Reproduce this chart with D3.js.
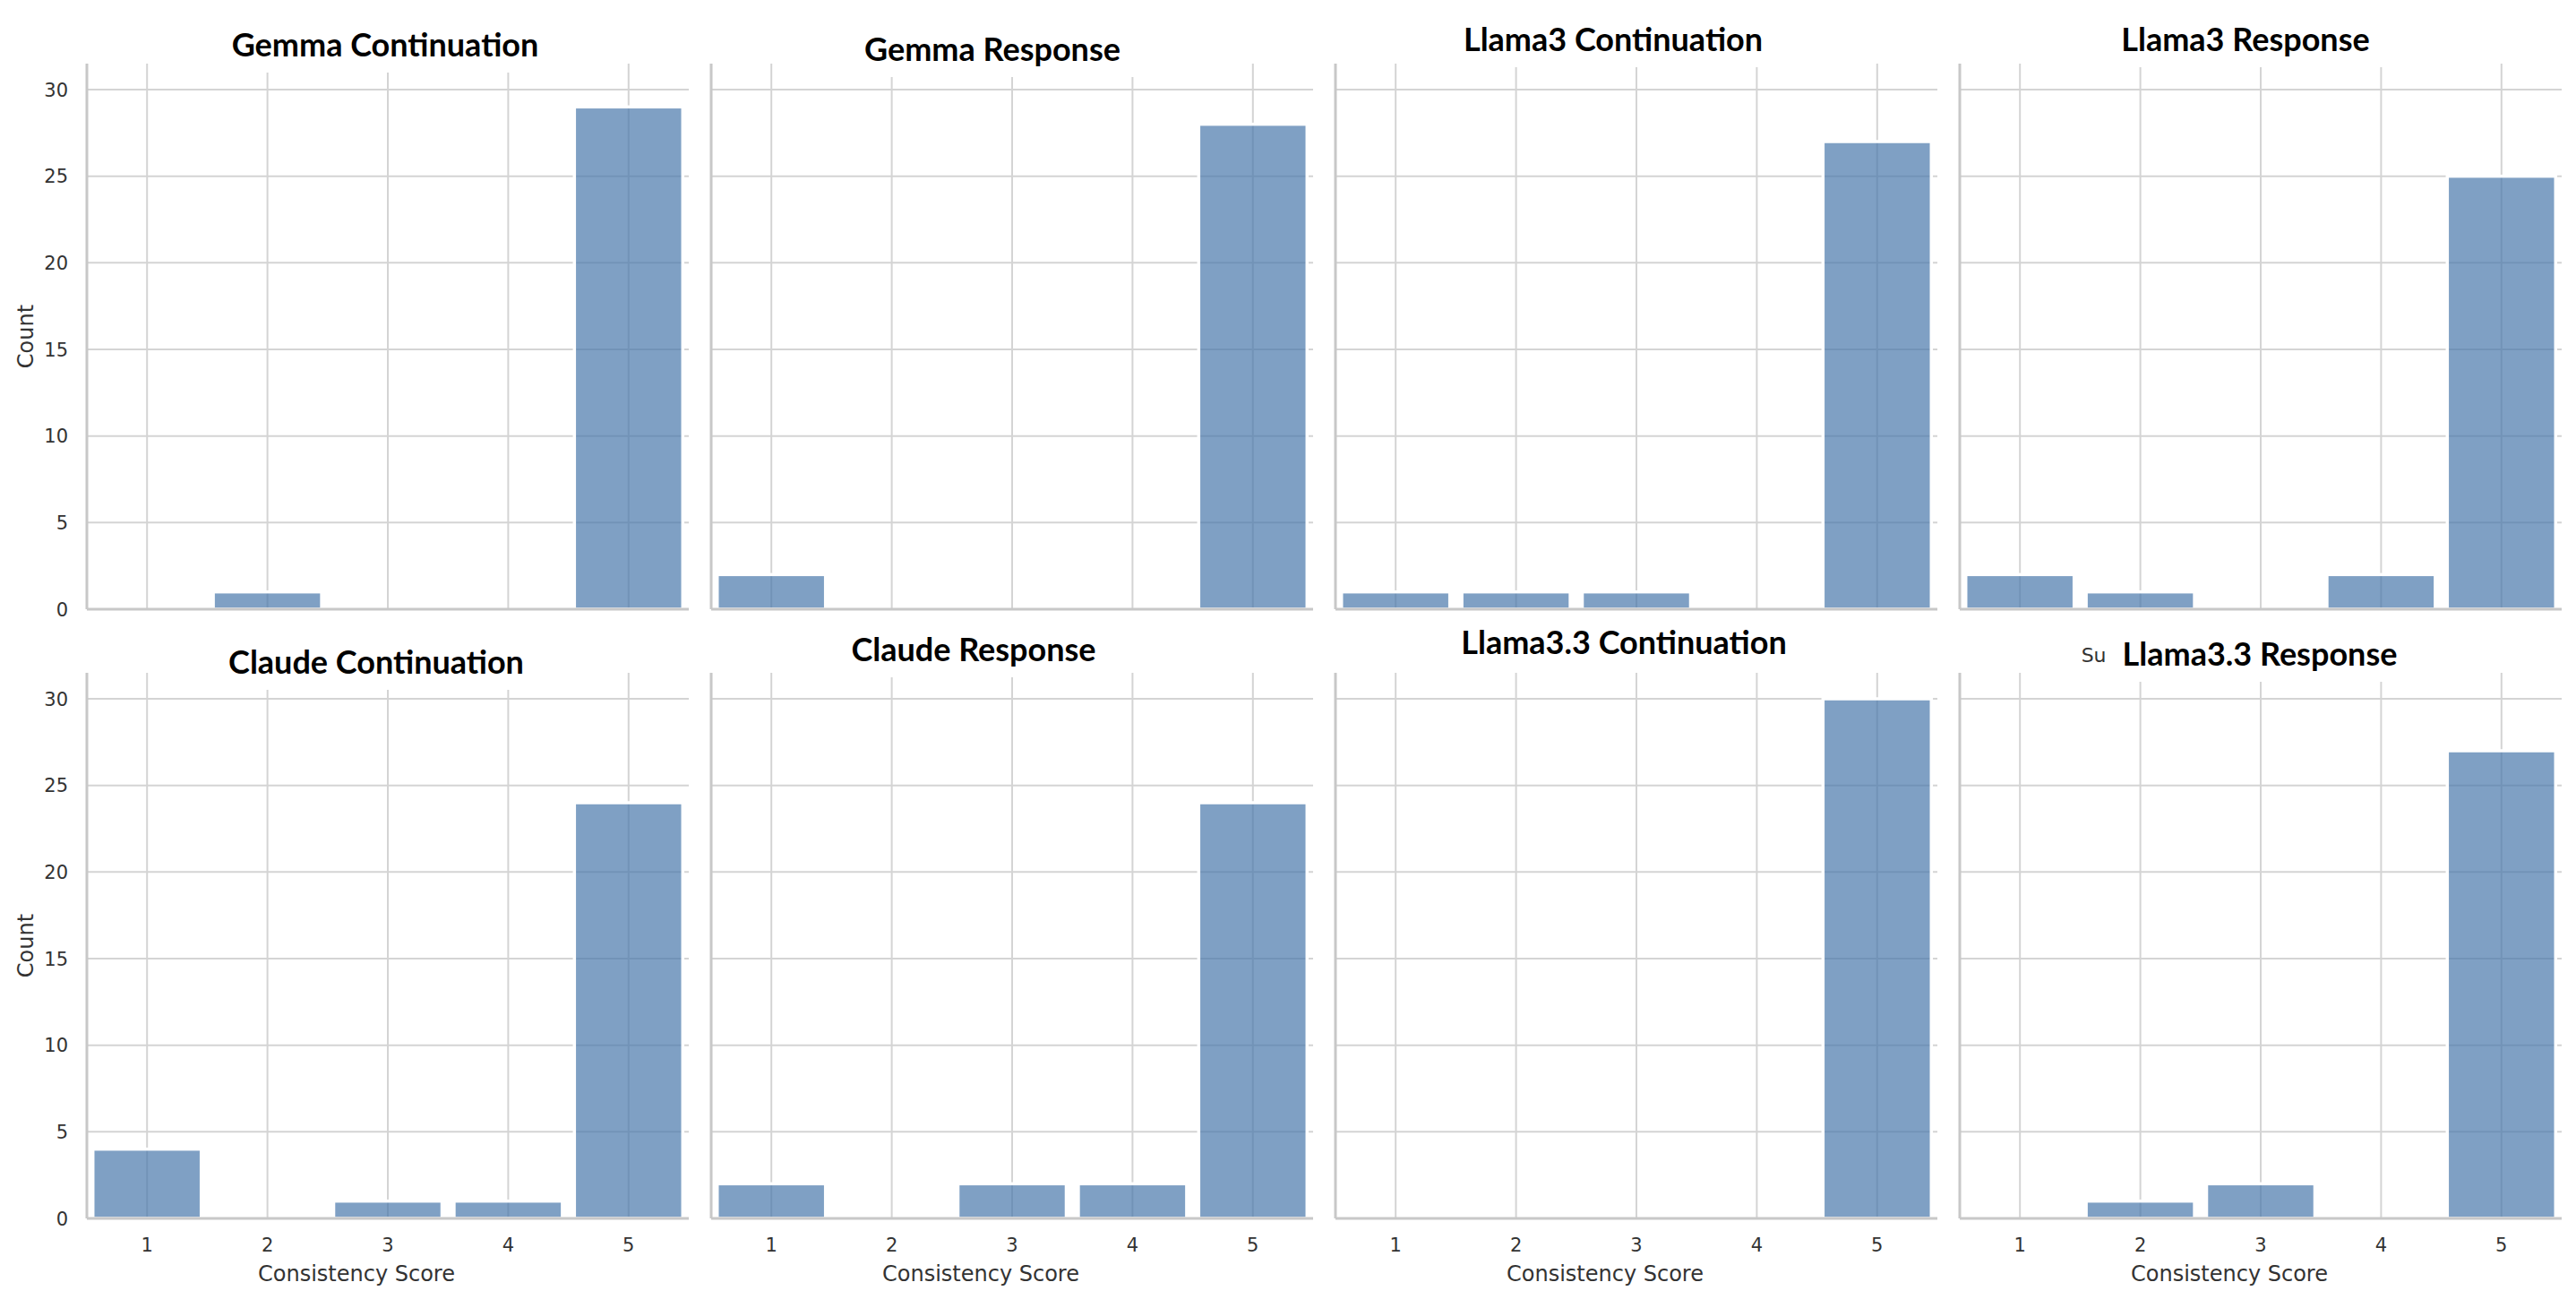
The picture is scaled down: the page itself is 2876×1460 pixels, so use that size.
<!DOCTYPE html>
<html>
<head>
<meta charset="utf-8">
<script src="https://cdn.jsdelivr.net/npm/d3@7"></script>
<style>
  body { margin: 0; background: #fff; }
  text { font-family: "DejaVu Sans", sans-serif; }
</style>
</head>
<body>
<div id="myPlot"></div>
<script>
// data
var scores = [1, 2, 3, 4, 5];
var panelNames = [
    "Gemma Continuation", "Gemma Response", "Llama3 Continuation", "Llama3 Response",
    "Claude Continuation", "Claude Response", "Llama3.3 Continuation", "Llama3.3 Response"
];
var gemmaCont = [0, 1, 0, 0, 29];
var gemmaResp = [2, 0, 0, 0, 28];
var llama3Cont = [1, 1, 1, 0, 27];
var llama3Resp = [2, 1, 0, 2, 25];
var claudeCont = [4, 0, 1, 1, 24];
var claudeResp = [2, 0, 2, 2, 24];
var llama33Cont = [0, 0, 0, 0, 30];
var llama33Resp = [0, 1, 2, 0, 27];
var counts = [gemmaCont, gemmaResp, llama3Cont, llama3Resp, claudeCont, claudeResp, llama33Cont, llama33Resp];
var yTicks = [0, 5, 10, 15, 20, 25, 30];

// layout
var svgWidth = 2876;
var svgHeight = 1460;
var colX = [97, 794, 1491, 2188];
var rowY = [71, 751];
var panelW = 672;
var panelH = 609;
// title tweaks (offset from panel centre, baseline relative to panel top)
var titleDx = [-3, -22, -26, -17, -13, -43, -14, -1];
var titleDy = [-8, -3, -14, -14, 1, -13, -21, -8];

var barColor = "#4877ab";
var gridColor = "#d4d4d4";
var spineColor = "#c8c8c8";

var svg = d3.select("#myPlot")
    .append("svg")
    .attr("width", svgWidth)
    .attr("height", svgHeight);

var xScale = d3.scaleBand()
    .domain(scores)
    .range([0, panelW])
    .paddingInner(0.1)
    .paddingOuter(0.05);

var yScale = d3.scaleLinear()
    .domain([0, 31.5])
    .range([panelH, 0]);

function drawPanel(i) {
    var col = i % 4, row = Math.floor(i / 4);
    var g = svg.append("g")
        .attr("transform", `translate(${colX[col]}, ${rowY[row]})`);
    var data = scores.map((s, k) => ({ score: s, count: counts[i][k] }));
    var cx = s => xScale(s) + xScale.bandwidth() / 2;

    // grid
    g.selectAll(".hgrid").data(yTicks).enter().append("line")
        .attr("x1", 0).attr("x2", panelW)
        .attr("y1", d => yScale(d)).attr("y2", d => yScale(d))
        .attr("stroke", gridColor).attr("stroke-width", 2);
    g.selectAll(".vgrid").data(scores).enter().append("line")
        .attr("x1", cx).attr("x2", cx)
        .attr("y1", 0).attr("y2", panelH)
        .attr("stroke", gridColor).attr("stroke-width", 2);

    // bars
    g.selectAll("rect.bar").data(data.filter(d => d.count > 0)).enter().append("rect")
        .attr("class", "bar")
        .attr("x", d => xScale(d.score))
        .attr("y", d => yScale(d.count))
        .attr("width", xScale.bandwidth())
        .attr("height", d => panelH - yScale(d.count))
        .attr("fill", barColor)
        .attr("fill-opacity", 0.7)
        .attr("stroke", "#fff")
        .attr("stroke-width", 3.5);

    // spines
    g.append("line").attr("x1", 0).attr("x2", 0).attr("y1", 0).attr("y2", panelH)
        .attr("stroke", spineColor).attr("stroke-width", 3);
    g.append("line").attr("x1", 0).attr("x2", panelW).attr("y1", panelH).attr("y2", panelH)
        .attr("stroke", spineColor).attr("stroke-width", 3);

    // y tick labels on first column
    if (col == 0) {
        g.selectAll(".ytl").data(yTicks).enter().append("text")
            .attr("x", -21).attr("y", d => yScale(d)).attr("dy", "0.36em")
            .attr("text-anchor", "end")
            .style("font-size", "21px").attr("fill", "#333")
            .text(d => d);
        g.append("text")
            .attr("transform", `translate(-60, ${panelH / 2}) rotate(-90)`)
            .attr("text-anchor", "middle")
            .style("font-size", "24px").attr("fill", "#333")
            .text("Count");
    }
    // x tick labels on bottom row
    if (row == 1) {
        g.selectAll(".xtl").data(scores).enter().append("text")
            .attr("x", cx).attr("y", panelH + 37)
            .attr("text-anchor", "middle")
            .style("font-size", "21px").attr("fill", "#333")
            .text(d => d);
        g.append("text")
            .attr("x", panelW / 2 - 35).attr("y", panelH + 70)
            .attr("text-anchor", "middle")
            .style("font-size", "24px").attr("fill", "#333")
            .text("Consistency Score");
    }

    // title with white box
    var tx = panelW / 2 + titleDx[i];
    var title = g.append("text")
        .attr("x", tx).attr("y", titleDy[i])
        .attr("text-anchor", "middle")
        .style("font-family", "Lato, sans-serif")
        .style("font-weight", "bold")
        .style("font-size", "36px")
        .attr("fill", "#000")
        .text(panelNames[i]);
    var bb = title.node().getBBox();
    g.insert("rect", function () { return title.node(); })
        .attr("x", bb.x - 18).attr("y", titleDy[i] - 40)
        .attr("width", bb.width + 36).attr("height", 58)
        .attr("fill", "#fff");

    // bit of the old facet title still peeking out on the left of the box
    if (i == 7) {
        g.append("text")
            .attr("x", bb.x - 18).attr("y", titleDy[i] - 4)
            .attr("text-anchor", "end")
            .style("font-size", "22px").attr("fill", "#333")
            .text("Su");
    }
}

d3.range(8).forEach(drawPanel);
</script>
</body>
</html>
